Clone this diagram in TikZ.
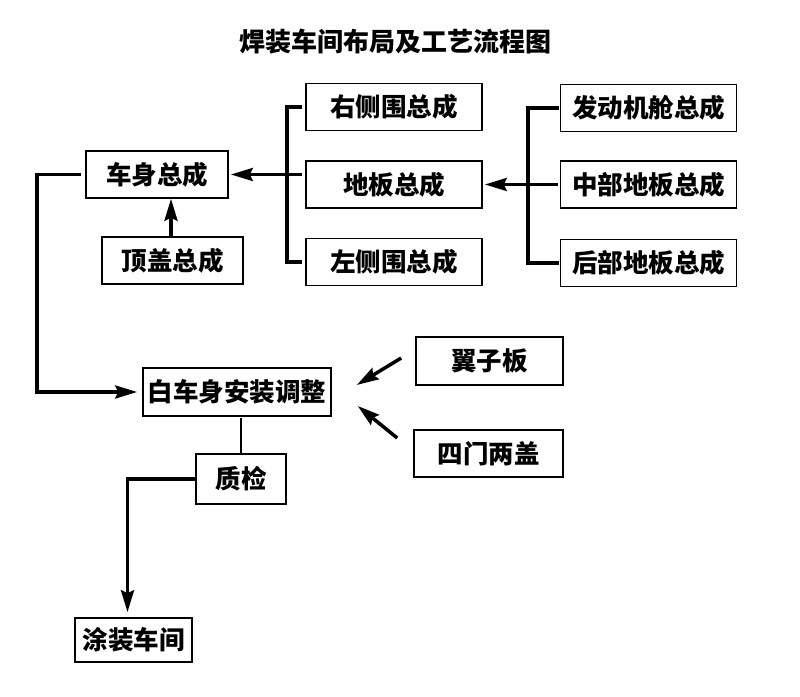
\documentclass[tikz,border=0pt]{standalone}
\usepackage{fontspec}
\setmainfont{Noto Sans CJK SC}[BoldFont={Noto Sans CJK SC Black}]
\usetikzlibrary{arrows.meta,positioning,calc}
\tikzset{x=1pt, y=-1pt, % Picture measured in pixels, y pointing down
        box/.style={ % Sets the properties for each block
            draw,
            line width=1.6pt,
            minimum width=176pt,
            minimum height=47pt,
            inner sep=2pt,
            font=\fontsize{25.5}{28}\bfseries},
        conn/.style={ % Thick connecting lines
            draw,
            line width=3.5pt},
        arrow/.style={ % Makes connectors directed with long narrow heads
            conn,
            -{Stealth[length=22pt,width=13pt,inset=3pt]}},
        every edge/.style={arrow}
        }

\begin{document}
\begin{tikzpicture}
    \useasboundingbox (0,0) rectangle (800,696);
    \node[font=\fontsize{26}{30}\bfseries] (title) at (395,42) {焊装车间布局及工艺流程图};

    \node[box] (diban) at (394,184.5) {地板总成};
    \node[box] (youce) [above=29pt of diban] {右侧围总成};
    \node[box] (zuoce) [below=29pt of diban] {左侧围总成};
    \node[box] (zhongbu) [right=77pt of diban] {中部地板总成};
    \node[box] (fadongji) [above=28pt of zhongbu] {发动机舱总成};
    \node[box] (houbu) [below=30pt of zhongbu] {后部地板总成};

    \node[box, minimum width=142pt] (cheshen) at (157,174.5) {车身总成};
    \node[box, minimum width=141pt] (dinggai) at (172.5,260.5) {顶盖总成};
    \node[box, minimum width=188pt, minimum height=48pt] (baicheshen) at (237,392) {白车身安装调整};
    \node[box, minimum width=90pt, minimum height=50pt] (zhijian) at (241,479) {质检};
    \node[box, minimum width=117pt, minimum height=44pt] (tuzhuang) at (133.5,640) {涂装车间};
    \node[box, minimum width=147pt, minimum height=48pt] (yizi) at (489.5,361) {翼子板};
    \node[box, minimum width=149pt] (simen) at (488.5,453.5) {四门两盖};

    % side panels and floor join into the body
    \draw[conn] ([xshift=-3pt]youce.west) -| ([xshift=-18pt]zuoce.west) -- ([xshift=-3pt]zuoce.west);
    \draw[arrow, shorten >=2pt] ([xshift=-3pt]diban.west |- cheshen.east) -- (cheshen.east);
    \draw[conn] ([xshift=-1pt]fadongji.west) -| ([xshift=-32pt]houbu.west) -- ([xshift=-1pt]houbu.west);
    \draw[arrow, shorten >=2pt] ([xshift=-2pt]zhongbu.west) -- (diban.east);
    \draw ([xshift=-1.5pt]dinggai.north) edge ([xshift=-1.5pt]dinggai.north |- cheshen.south);

    % main line
    \draw[arrow, shorten >=5pt] ([xshift=-4pt]cheshen.west) -| ([xshift=-105pt]baicheshen.west) -- (baicheshen.west);
    \draw[conn, line width=2.4pt] ([yshift=-1pt]baicheshen.south -| zhijian.north) -- (zhijian.north);
    \draw[arrow, shorten >=5pt] (zhijian.west) -| ([xshift=-6pt]tuzhuang.north);

    % parts fitted to the body in white
    \draw ($(yizi.west)+(-14,-3)$) edge ($(baicheshen.east)+(25,-7)$);
    \draw ($(simen.west)+(-16,-15.5)$) edge ($(baicheshen.east)+(26,14)$);
\end{tikzpicture}
\end{document}
